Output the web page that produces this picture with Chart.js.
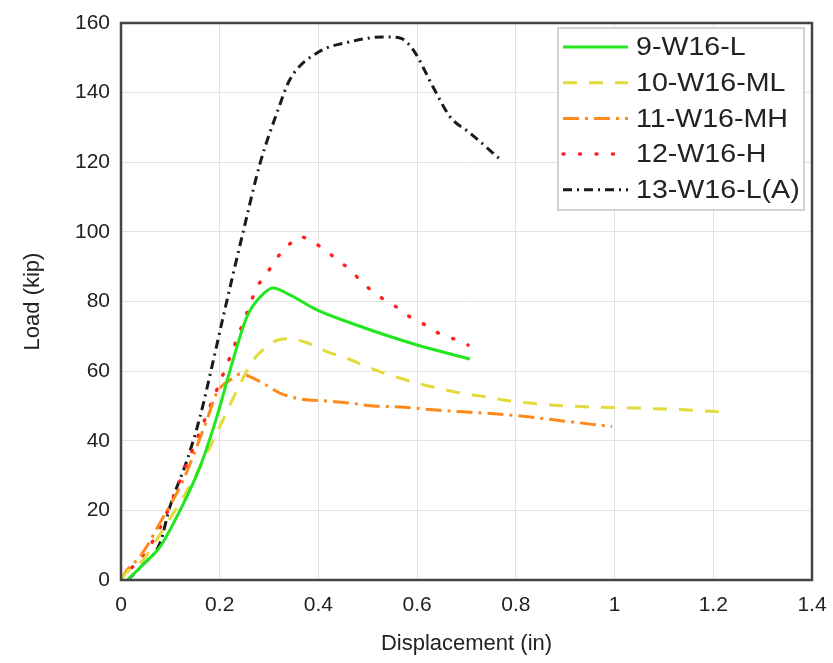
<!DOCTYPE html>
<html>
<head>
<meta charset="utf-8">
<script src="https://cdn.jsdelivr.net/npm/chart.js@4.4.1/dist/chart.umd.min.js"></script>
<style>
  html, body { margin: 0; padding: 0; background: #fff; }
  #wrap { width: 833px; height: 663px; }
</style>
</head>
<body>
<div id="wrap"><canvas id="chart" width="833" height="663"></canvas></div>
<script>
// Series names
const seriesNames = ['9-W16-L', '10-W16-ML', '11-W16-MH', '12-W16-H', '13-W16-L(A)'];

// 9-W16-L
const x9 = [0.014, 0.045, 0.079, 0.120, 0.160, 0.194, 0.227, 0.255, 0.282, 0.308, 0.342, 0.397, 0.464, 0.600, 0.707];
const y9 = [0, 4.5, 9.5, 20.1, 32.5, 46.8, 63.2, 75.6, 81.3, 83.9, 81.9, 77.6, 73.9, 67.5, 63.5];

// 10-W16-ML
const x10 = [0, 0.01, 0.04, 0.093, 0.146, 0.194, 0.235, 0.268, 0.295, 0.315, 0.342, 0.376, 0.417, 0.457, 0.498, 0.531, 0.565, 0.606, 0.640, 0.687, 0.741, 0.774, 0.823, 0.869, 0.950, 1.037, 1.139, 1.226];
const y10 = [0, 2, 5, 16.3, 28.7, 42.2, 54.5, 63.2, 67, 68.8, 69.3, 68.2, 65.6, 63.7, 61.3, 59.5, 58, 56.3, 55.2, 53.7, 52.6, 51.7, 50.9, 50.3, 49.7, 49.4, 48.9, 48.2];

// 11-W16-MH
const x11 = [0, 0.01, 0.04, 0.079, 0.126, 0.174, 0.194, 0.227, 0.244, 0.261, 0.288, 0.322, 0.363, 0.417, 0.464, 0.511, 0.565, 0.632, 0.693, 0.762, 0.829, 0.895, 0.995];
const y11 = [0, 2.5, 7, 16.4, 28.7, 46, 53.7, 58, 59.3, 58.4, 56.5, 53.7, 52, 51.4, 50.8, 50, 49.7, 48.9, 48.3, 47.7, 46.8, 45.7, 44.1];

// 12-W16-H
const x12 = [0, 0.01, 0.04, 0.079, 0.134, 0.180, 0.221, 0.255, 0.276, 0.296, 0.316, 0.336, 0.363, 0.389, 0.413, 0.438, 0.464, 0.490, 0.525, 0.549, 0.585, 0.616, 0.642, 0.673, 0.703];
const y12 = [0, 2, 6, 15, 33.6, 49.7, 64.1, 76.7, 84.2, 88.2, 92.5, 95.7, 98.6, 97.1, 94.8, 92, 89.1, 85.3, 81.3, 79.3, 75.6, 73.3, 71, 69.3, 67.5];

// 13-W16-L(A)
const x13 = [0.014, 0.045, 0.079, 0.099, 0.134, 0.160, 0.186, 0.207, 0.247, 0.282, 0.316, 0.342, 0.397, 0.464, 0.531, 0.565, 0.592, 0.632, 0.667, 0.707, 0.771];
const y13 = [0, 4.5, 10.6, 21, 34.5, 46.8, 62.4, 75.6, 99.7, 119.8, 134.2, 143.7, 151.4, 154.6, 156, 155.7, 152.3, 141.7, 133, 128.4, 120.5];

// Axis ticks
const xTicks = [0, 0.2, 0.4, 0.6, 0.8, 1, 1.2, 1.4];
const yTicks = [0, 20, 40, 60, 80, 100, 120, 140, 160];

function pts(xs, ys) {
    return xs.map((x, i) => ({ x: x, y: ys[i] }));
}

const styles = [
    { color: '#22e61e', dash: [], cap: 'butt', width: 3 },
    { color: '#e3da3c', dash: [14, 12], cap: 'butt', width: 3 },
    { color: '#ff8a1c', dash: [16, 6, 3, 6], cap: 'butt', width: 3 },
    { color: '#ff2020', dash: [1, 15.5], cap: 'round', width: 3.5 },
    { color: '#1a1a1a', dash: [9, 5, 2, 5], cap: 'butt', width: 3 }
];
const allX = [x9, x10, x11, x12, x13];
const allY = [y9, y10, y11, y12, y13];

const datasets = seriesNames.map((name, i) => ({
    label: name,
    data: pts(allX[i], allY[i]),
    borderColor: styles[i].color,
    backgroundColor: styles[i].color,
    borderDash: styles[i].dash,
    borderCapStyle: styles[i].cap,
    borderWidth: styles[i].width,
    pointRadius: 0,
    fill: false,
    cubicInterpolationMode: 'monotone'
}));

const FONT = "'Liberation Sans', Arial, sans-serif";

// frame around the plot area
const framePlugin = {
    id: 'frame',
    afterDatasetsDraw(chart) {
        const a = chart.chartArea;
        const c = chart.ctx;
        c.save();
        c.strokeStyle = '#444';
        c.lineWidth = 2.5;
        c.setLineDash([]);
        c.strokeRect(a.left, a.top, a.right - a.left, a.bottom - a.top);
        c.restore();
    }
};

// legend box in the top-right corner of the plot
const legendPlugin = {
    id: 'boxLegend',
    afterDraw(chart) {
        const a = chart.chartArea;
        const c = chart.ctx;
        const boxW = 246, rowH = 35.7, boxH = 182;
        const bx = a.right - 8 - boxW;
        const by = a.top + 5;
        c.save();
        c.fillStyle = '#fff';
        c.fillRect(bx, by, boxW, boxH);
        c.strokeStyle = '#c4c4c4';
        c.lineWidth = 1.5;
        c.strokeRect(bx, by, boxW, boxH);
        chart.data.datasets.forEach((ds, i) => {
            const yy = by + 19 + i * rowH;
            c.beginPath();
            c.setLineDash(ds.borderDash);
            c.lineCap = ds.borderCapStyle;
            c.strokeStyle = ds.borderColor;
            c.lineWidth = ds.borderWidth;
            c.moveTo(bx + 5, yy);
            c.lineTo(bx + 70, yy);
            c.stroke();
            c.setLineDash([]);
            c.fillStyle = '#222';
            c.font = '26px ' + FONT;
            c.textBaseline = 'middle';
            c.textAlign = 'left';
            // text in the source is a little wider than the font
            c.save();
            c.translate(bx + 78, yy + 1);
            c.scale(1.1, 1);
            c.fillText(ds.label, 0, 0);
            c.restore();
        });
        c.restore();
    }
};

new Chart(document.getElementById('chart'), {
    type: 'line',
    data: { datasets: datasets },
    plugins: [framePlugin, legendPlugin],
    options: {
        responsive: false,
        animation: false,
        layout: { padding: { left: 0, right: 21, top: 23, bottom: 0 } },
        plugins: {
            legend: { display: false },
            tooltip: { enabled: false }
        },
        scales: {
            x: {
                type: 'linear',
                min: 0,
                max: 1.4,
                afterBuildTicks(scale) {
                    scale.ticks = xTicks.map(v => ({ value: v }));
                },
                afterFit(scale) {
                    scale.height = 83;
                    scale.paddingLeft = 0;
                    scale.paddingRight = 0;
                },
                grid: { color: '#e2e2e2', lineWidth: 1, drawTicks: false },
                border: { display: false },
                ticks: {
                    color: '#222',
                    font: { family: FONT, size: 21 },
                    padding: 13,
                    maxRotation: 0,
                    callback: v => String(v)
                },
                title: {
                    display: true,
                    text: 'Displacement (in)',
                    color: '#222',
                    font: { family: FONT, size: 22 },
                    padding: { top: 6, bottom: 6 }
                }
            },
            y: {
                type: 'linear',
                min: 0,
                max: 160,
                afterBuildTicks(scale) {
                    scale.ticks = yTicks.map(v => ({ value: v }));
                },
                afterFit(scale) {
                    scale.width = 121;
                    scale.paddingTop = 0;
                    scale.paddingBottom = 0;
                },
                grid: { color: '#e2e2e2', lineWidth: 1, drawTicks: false },
                border: { display: false },
                ticks: {
                    color: '#222',
                    font: { family: FONT, size: 21 },
                    padding: 11,
                    callback: v => String(v)
                },
                title: {
                    display: true,
                    text: 'Load (kip)',
                    color: '#222',
                    font: { family: FONT, size: 22 },
                    padding: { top: 20, bottom: 20 }
                }
            }
        }
    }
});
</script>
</body>
</html>
